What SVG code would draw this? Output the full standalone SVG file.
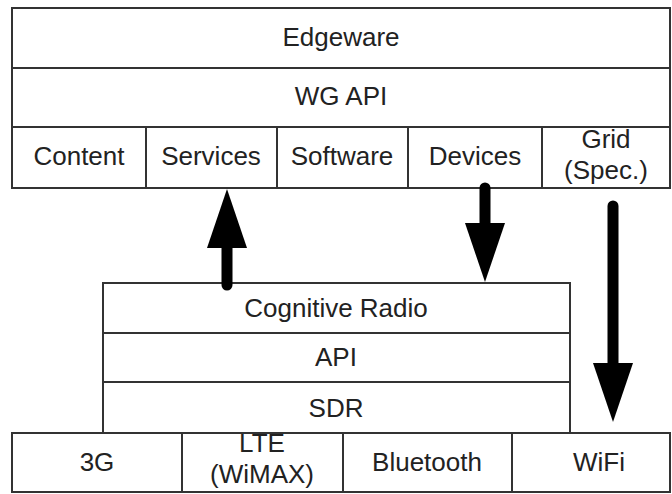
<svg xmlns="http://www.w3.org/2000/svg" width="672" height="494" viewBox="0 0 672 494">
  <style>
    .box { fill: #ffffff; stroke: #333333; stroke-width: 2; }
    .sep { stroke: #333333; stroke-width: 2; fill: none; }
    .lbl { font-family: "Liberation Sans", Arial, sans-serif; font-size: 26px; fill: #222222; text-anchor: middle; }
    .shaft { stroke: #000000; stroke-width: 11; stroke-linecap: round; fill: none; }
  </style>
  <defs>
    <marker id="head" viewBox="0 0 59 40" refX="0" refY="20" markerWidth="59" markerHeight="40" markerUnits="userSpaceOnUse" orient="auto">
      <path d="M0,0 L59,20 L0,40 Z" fill="#000000"/>
    </marker>
  </defs>
  <rect width="672" height="494" fill="#ffffff"/>

  <!-- upper stack -->
  <g id="edgeware">
    <rect class="box" x="12" y="8" width="658" height="60"/>
    <text class="lbl" x="341" y="46">Edgeware</text>
  </g>
  <g id="wg-api">
    <rect class="box" x="12" y="68" width="658" height="59"/>
    <text class="lbl" x="341" y="105">WG API</text>
  </g>
  <g id="content">
    <rect class="box" x="12" y="127" width="134" height="61"/>
    <text class="lbl" x="79" y="165">Content</text>
  </g>
  <g id="services">
    <rect class="box" x="146" y="127" width="131" height="61"/>
    <text class="lbl" x="211" y="165">Services</text>
  </g>
  <g id="software">
    <rect class="box" x="277" y="127" width="131" height="61"/>
    <text class="lbl" x="342" y="165">Software</text>
  </g>
  <g id="devices">
    <rect class="box" x="408" y="127" width="134" height="61"/>
    <text class="lbl" x="475" y="165">Devices</text>
  </g>
  <g id="grid">
    <rect class="box" x="542" y="127" width="128" height="61"/>
    <text class="lbl" x="606" y="148">Grid</text>
    <text class="lbl" x="606" y="179">(Spec.)</text>
  </g>

  <!-- radio stack -->
  <g id="cognitive-radio">
    <rect class="box" x="103" y="283" width="467" height="50"/>
    <text class="lbl" x="336" y="317">Cognitive Radio</text>
  </g>
  <g id="api">
    <rect class="box" x="103" y="333" width="467" height="49"/>
    <text class="lbl" x="336" y="366">API</text>
  </g>
  <g id="sdr">
    <rect class="box" x="103" y="382" width="467" height="51"/>
    <text class="lbl" x="336" y="417">SDR</text>
  </g>

  <!-- access technologies -->
  <g id="g3">
    <rect class="box" x="12" y="433" width="170" height="59"/>
    <text class="lbl" x="97" y="471">3G</text>
  </g>
  <g id="lte">
    <rect class="box" x="182" y="433" width="161" height="59"/>
    <text class="lbl" x="262" y="452">LTE</text>
    <text class="lbl" x="262" y="483">(WiMAX)</text>
  </g>
  <g id="bluetooth">
    <rect class="box" x="343" y="433" width="169" height="59"/>
    <text class="lbl" x="427" y="471">Bluetooth</text>
  </g>
  <g id="wifi">
    <rect class="box" x="512" y="433" width="158" height="59"/>
    <text class="lbl" x="599" y="471">WiFi</text>
  </g>

  <!-- arrows between the stacks -->
  <g id="connectors">
    <line class="shaft" x1="227" y1="285" x2="227" y2="248" marker-end="url(#head)"/>
    <line class="shaft" x1="485" y1="188" x2="485" y2="223" marker-end="url(#head)"/>
    <line class="shaft" x1="613" y1="206" x2="613" y2="363" marker-end="url(#head)"/>
  </g>
</svg>
